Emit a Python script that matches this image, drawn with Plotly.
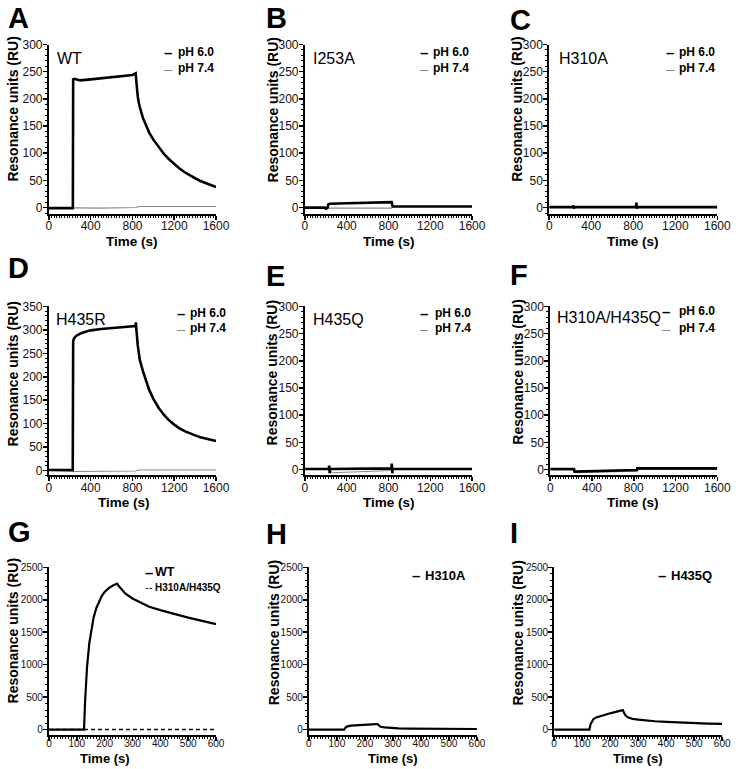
import plotly.graph_objects as go

W, H = 745, 769
FONT = "Liberation Sans, Arial, Helvetica, sans-serif"

# ---------------- data ----------------
# Panel A  WT
A_t60 = [0, 100, 200, 229, 232, 245, 260, 300, 400, 500, 600, 700, 800, 830, 834, 840, 850, 860, 870,
         900, 930, 960, 1000, 1050, 1100, 1150, 1200, 1250, 1300, 1350, 1400, 1450, 1500, 1550, 1600]
A_v60 = [-1, -1, -1, -1, 236, 237, 236, 234, 236, 238, 240, 242, 244, 247, 238, 222, 205, 194, 185,
         165, 150, 138, 125, 111, 99, 89, 80, 72, 65, 59, 54, 49, 45, 41, 38]
A_t74 = [0, 230, 500, 830, 870, 1200, 1600]
A_v74 = [0, -1, -1, 0, 2, 2, 2]

# Panel B  I253A
B_t60 = [0, 190, 200, 215, 225, 240, 400, 600, 820, 830, 840, 1000, 1600]
B_v60 = [0, 0, -2, -1, 6, 7, 8, 9.5, 10, 10, 2, 2, 2]
B_t74 = [0, 230, 250, 830, 840, 1600]
B_v74 = [0, -1, -1, -1, 2, 2]

# Panel C  H310A
C_t60 = [0, 226, 230, 234, 238, 826, 830, 834, 838, 1600]
C_v60 = [1, 1, 4, -2, 1, 1, 9, -2, 1, 1]
C_t74 = [0, 230, 830, 1600]
C_v74 = [-1, -1, -1, -1]

# Panel D  H435R
D_t60 = [0, 100, 228, 232, 240, 260, 300, 350, 400, 500, 600, 700, 800, 828, 832, 835, 840, 850, 860,
         870, 900, 930, 960, 1000, 1050, 1100, 1150, 1200, 1250, 1300, 1350, 1400, 1450, 1500, 1550, 1600]
D_v60 = [1, 1, 1, 275, 282, 287, 292, 296, 299, 302, 304, 306, 307, 308, 316, 305, 290, 268, 252,
         236, 212, 190, 172, 153, 134, 119, 107, 98, 90, 84, 79, 75, 71, 68, 65, 63]
D_t74 = [0, 230, 830, 860, 1600]
D_v74 = [0, -2, -1, 1, 1]

# Panel E  H435Q
E_t60 = [0, 228, 232, 236, 240, 828, 832, 836, 840, 1600]
E_v60 = [1, 1, 7, -7, 1, 2, 11, -7, 1, 1]
E_t74 = [0, 235, 260, 830, 840, 1600]
E_v74 = [0, 0, -6, -2, 0, 0]

# Panel F  H310A/H435Q
F_t60 = [0, 228, 232, 500, 830, 834, 1600]
F_v60 = [1, 1, -4, -3, -1, 2, 2]
F_t74 = [0, 232, 240, 830, 836, 1600]
F_v74 = [-1, -1, -6, -3, 0, 0]

# Panel G  WT vs H310A/H435Q (high density)
G_t = [0, 100, 126, 130, 137, 145, 150, 160, 170, 180, 190, 200, 215, 230, 245, 250, 260, 275,
       300, 330, 360, 400, 450, 500, 550, 600]
G_wt = [0, 0, 0, 450, 975, 1330, 1480, 1720, 1870, 1980, 2060, 2120, 2180, 2220, 2250, 2215, 2160, 2095,
        2020, 1955, 1893, 1840, 1780, 1725, 1675, 1626]
G_t2 = [0, 600]
G_dm = [0, 0]

# Panel H  H310A
H_t = [0, 126, 130, 135, 150, 175, 200, 225, 245, 250, 256, 270, 290, 320, 360, 420, 500, 600]
H_v = [0, 0, 25, 45, 60, 70, 76, 80, 85, 60, 42, 32, 25, 19, 15, 12, 10, 8]

# Panel I  H435Q
I_t = [0, 126, 130, 135, 140, 150, 165, 180, 200, 220, 245, 250, 255, 265, 280, 300, 330, 360,
       400, 450, 500, 550, 600]
I_v = [0, 0, 80, 130, 160, 187, 208, 228, 250, 272, 300, 255, 215, 185, 165, 152, 138, 128,
       118, 107, 97, 92, 88]

# tick spacing / ranges
X_LONG_MAX, X_LONG_STEP = 1600, 400
X_SHORT_MAX, X_SHORT_STEP = 600, 100
Y_STEP_SMALL, Y_STEP_BIG = 50, 500

LEG_PH = ["pH 6.0", "pH 7.4"]

# ---------------- layout helpers ----------------
def fx(p):
    return p / W

def fy(p):
    return 1 - p / H

BLACK = "#000000"
GREY = "#8a8a8a"
thick = dict(color=BLACK, width=2.6)
thin = dict(color=GREY, width=1.1)
g_thick = dict(color=BLACK, width=2.2)
g_dash = dict(color=BLACK, width=1.4, dash="4px,3px")

panels = [
    dict(letter="A", lpos=(3, 11), name="WT", npos=(53, 52), xd=(47, 218), yd=(38, 209),
         xr=[0, X_LONG_MAX], xs=X_LONG_STEP, xm=25, yr=[-11, 300], ys=Y_STEP_SMALL, ym=10, tf=12,
         traces=[(A_t74, A_v74, thin), (A_t60, A_v60, thick)],
         leg=[(163, 177, 46, "pH6"), (163, 177, 62, "pH7")],
         ytit=(10, 103), xtit=(132, 237)),
    dict(letter="B", lpos=(267, 11), name="I253A", npos=(315, 52), xd=(309, 480), yd=(38, 209),
         xr=[0, X_LONG_MAX], xs=X_LONG_STEP, xm=25, yr=[-11, 300], ys=Y_STEP_SMALL, ym=10, tf=12,
         traces=[(B_t74, B_v74, thin), (B_t60, B_v60, thick)],
         leg=[(425, 438, 46, "pH6"), (425, 438, 62, "pH7")],
         ytit=(276, 104), xtit=(395, 237)),
    dict(letter="C", lpos=(517, 13), name="H310A", npos=(567, 52), xd=(559, 731), yd=(38, 209),
         xr=[0, X_LONG_MAX], xs=X_LONG_STEP, xm=25, yr=[-11, 300], ys=Y_STEP_SMALL, ym=10, tf=12,
         traces=[(C_t74, C_v74, thin), (C_t60, C_v60, thick)],
         leg=[(676, 690, 46, "pH6"), (676, 690, 62, "pH7")],
         ytit=(526, 103), xtit=(645, 237)),
    dict(letter="D", lpos=(3, 264), name="H435R", npos=(52, 316), xd=(47, 218), yd=(303, 474),
         xr=[0, X_LONG_MAX], xs=X_LONG_STEP, xm=25, yr=[-10.5, 350], ys=Y_STEP_SMALL, ym=10, tf=12,
         traces=[(D_t74, D_v74, thin), (D_t60, D_v60, thick)],
         leg=[(176, 189, 310, "pH6"), (176, 189, 325, "pH7")],
         ytit=(10, 371), xtit=(124, 501)),
    dict(letter="E", lpos=(267, 272), name="H435Q", npos=(315, 316), xd=(309, 480), yd=(303, 474),
         xr=[0, X_LONG_MAX], xs=X_LONG_STEP, xm=25, yr=[-11, 300], ys=Y_STEP_SMALL, ym=10, tf=12,
         traces=[(E_t74, E_v74, thin), (E_t60, E_v60, thick)],
         leg=[(425, 440, 310, "pH6"), (425, 440, 325, "pH7")],
         ytit=(275, 370), xtit=(395, 501)),
    dict(letter="F", lpos=(517, 271), name="H310A/H435Q", npos=(565, 314), xd=(560, 731), yd=(303, 474),
         xr=[0, X_LONG_MAX], xs=X_LONG_STEP, xm=25, yr=[-11, 300], ys=Y_STEP_SMALL, ym=10, tf=12,
         traces=[(F_t74, F_v74, thin), (F_t60, F_v60, thick)],
         leg=[(672, 690, 308, "pH6"), (672, 690, 325, "pH7")],
         ytit=(527, 369), xtit=(645, 501)),
    dict(letter="G", lpos=(3, 531), name=None, npos=None, xd=(47, 218), yd=(567, 737),
         xr=[0, X_SHORT_MAX], xs=X_SHORT_STEP, xm=10, yr=[-90, 2500], ys=Y_STEP_BIG, ym=100, tf=10,
         traces=[(G_t2, G_dm, g_dash), (G_t, G_wt, g_thick)],
         leg=[(143, 154, 572, "WT"), (143, 154, 587, "DM")],
         ytit=(10, 631), xtit=(104, 760)),
    dict(letter="H", lpos=(267, 533), name=None, npos=None, xd=(313, 485), yd=(567, 737),
         xr=[0, X_SHORT_MAX], xs=X_SHORT_STEP, xm=10, yr=[-90, 2500], ys=Y_STEP_BIG, ym=100, tf=10,
         traces=[(H_t, H_v, g_thick)],
         leg=[(417, 430, 575, "H310A")],
         ytit=(277, 633), xtit=(399, 760)),
    dict(letter="I", lpos=(517, 532), name=None, npos=None, xd=(564, 736), yd=(567, 737),
         xr=[0, X_SHORT_MAX], xs=X_SHORT_STEP, xm=10, yr=[-90, 2500], ys=Y_STEP_BIG, ym=100, tf=10,
         traces=[(I_t, I_v, g_thick)],
         leg=[(668, 682, 575, "H435Q")],
         ytit=(527, 633), xtit=(650, 760)),
]

fig = go.Figure()
layout = dict(width=W, height=H, margin=dict(l=0, r=0, t=0, b=0),
              paper_bgcolor="white", plot_bgcolor="white", showlegend=False,
              font=dict(family=FONT, color=BLACK))
annotations = []

for i, p in enumerate(panels, start=1):
    sfx = "" if i == 1 else str(i)
    xa, ya = "x" + sfx, "y" + sfx
    small = p["tf"] < 12
    tickfont = dict(family=FONT, size=p["tf"], color="#111111")
    common = dict(showline=True, linecolor=BLACK, linewidth=2, ticks="outside", ticklen=4, tickwidth=1.5,
                  tickcolor=BLACK, showgrid=False, zeroline=False, tickfont=tickfont, tickmode="linear",
                  tick0=0, fixedrange=True)
    layout["xaxis" + sfx] = dict(
        domain=[fx(p["xd"][0]), fx(p["xd"][1])], anchor=ya, range=p["xr"], dtick=p["xs"],
        ticklabelstandoff=-6 if small else -4,
        minor=dict(dtick=p["xm"], tick0=0, ticks="outside", ticklen=2, tickwidth=1, tickcolor=BLACK,
                   showgrid=False),
        **common)
    layout["yaxis" + sfx] = dict(
        domain=[fy(p["yd"][1]), fy(p["yd"][0])], anchor=xa, range=p["yr"], dtick=p["ys"],
        ticklabelstandoff=-2,
        minor=dict(dtick=p["ym"], tick0=0, ticks="outside", ticklen=2, tickwidth=1, tickcolor=BLACK,
                   showgrid=False),
        **common)
    for t, v, st in p["traces"]:
        fig.add_trace(go.Scatter(x=t, y=v, mode="lines", line=st, xaxis=xa, yaxis=ya,
                                 hoverinfo="skip", cliponaxis=True))

    # panel letter
    annotations.append(dict(text="<b>%s</b>" % p["letter"], x=fx(p["lpos"][0]), y=fy(p["lpos"][1]),
                            xref="paper", yref="paper", xanchor="left", yanchor="middle",
                            showarrow=False, font=dict(family=FONT, size=29, color=BLACK)))
    # construct label
    if p["name"]:
        annotations.append(dict(text=p["name"], x=fx(p["npos"][0]), y=fy(p["npos"][1]),
                                xref="paper", yref="paper", xanchor="left", yanchor="middle",
                                showarrow=False, font=dict(family=FONT, size=16, color=BLACK)))
    # legend rows
    for dx, tx, yy, kind in p["leg"]:
        if kind == "pH6":
            dash, dcol, dsize, label, lsize = "<b>\u2013</b>", BLACK, 15, LEG_PH[0], 12
        elif kind == "pH7":
            dash, dcol, dsize, label, lsize = "\u2013", GREY, 15, LEG_PH[1], 12
        elif kind == "WT":
            dash, dcol, dsize, label, lsize = "<b>\u2013</b>", BLACK, 15, "WT", 12.5
        elif kind == "DM":
            dash, dcol, dsize, label, lsize = "--", BLACK, 11, "H310A/H435Q", 10
        else:
            dash, dcol, dsize, label, lsize = "<b>\u2013</b>", BLACK, 15, kind, 13
        annotations.append(dict(text=dash, x=fx(dx), y=fy(yy), xref="paper", yref="paper",
                                xanchor="left", yanchor="middle", showarrow=False,
                                font=dict(family=FONT, size=dsize, color=dcol)))
        annotations.append(dict(text="<b>%s</b>" % label, x=fx(tx), y=fy(yy), xref="paper", yref="paper",
                                xanchor="left", yanchor="middle", showarrow=False,
                                font=dict(family=FONT, size=lsize, color=BLACK)))
    # axis titles
    annotations.append(dict(text="<b>Resonance units (RU)</b>", x=fx(p["ytit"][0]), y=fy(p["ytit"][1]),
                            xref="paper", yref="paper", xanchor="center", yanchor="middle",
                            textangle=-90, showarrow=False,
                            font=dict(family=FONT, size=14, color=BLACK)))
    annotations.append(dict(text="<b>Time (s)</b>", x=fx(p["xtit"][0]), y=fy(p["xtit"][1]),
                            xref="paper", yref="paper", xanchor="center", yanchor="middle",
                            showarrow=False, font=dict(family=FONT, size=13 if small else 13.5, color=BLACK)))

layout["annotations"] = annotations
fig.update_layout(**layout)
# remove the browser's default 8px body margin so the figure sits at the page origin
fig.write_html("out.html", config={"displayModeBar": False, "staticPlot": True},
               post_script="document.body.style.margin='0';document.body.style.overflow='hidden';")
